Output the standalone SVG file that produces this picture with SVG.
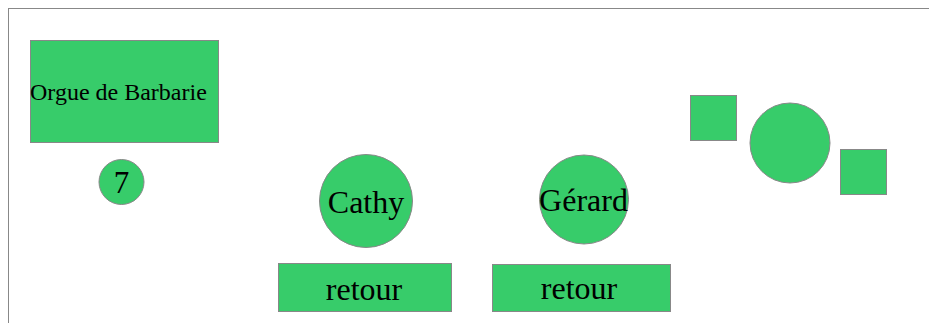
<svg xmlns="http://www.w3.org/2000/svg" width="929" height="323" viewBox="0 0 929 323">
<style>
.s{fill:#37cc6a;stroke:#888888;stroke-width:1}
text{font-family:"Liberation Serif","Times New Roman",serif;fill:#000}
</style>
<rect x="8.5" y="8.5" width="940" height="340" fill="#fff" stroke="#888888" stroke-width="1"/>
<g id="orgue"><rect class="s" x="30.5" y="40.5" width="188" height="102"/><text x="30" y="100" font-size="24">Orgue de Barbarie</text></g>
<g id="n7"><circle class="s" cx="121.5" cy="182" r="22.5"/><text x="121.5" y="193" font-size="31" text-anchor="middle">7</text></g>
<g id="cathy"><circle class="s" cx="366" cy="201" r="46.5"/><text x="366" y="213" font-size="32" text-anchor="middle">Cathy</text></g>
<g id="gerard"><circle class="s" cx="584" cy="199.5" r="44.5"/><text x="583.5" y="211" font-size="32" text-anchor="middle">Gérard</text></g>
<g id="retour1"><rect class="s" x="278.5" y="263.5" width="173" height="48"/><text x="364" y="300" font-size="32" text-anchor="middle">retour</text></g>
<g id="retour2"><rect class="s" x="492.5" y="264.5" width="178" height="47"/><text x="579" y="299" font-size="32" text-anchor="middle">retour</text></g>
<g id="sq1"><rect class="s" x="690.5" y="95.5" width="46" height="45"/></g>
<g id="circ"><circle class="s" cx="790" cy="143" r="40"/></g>
<g id="sq2"><rect class="s" x="840.5" y="149.5" width="46" height="45"/></g>
<g id="connectors"></g>
</svg>
